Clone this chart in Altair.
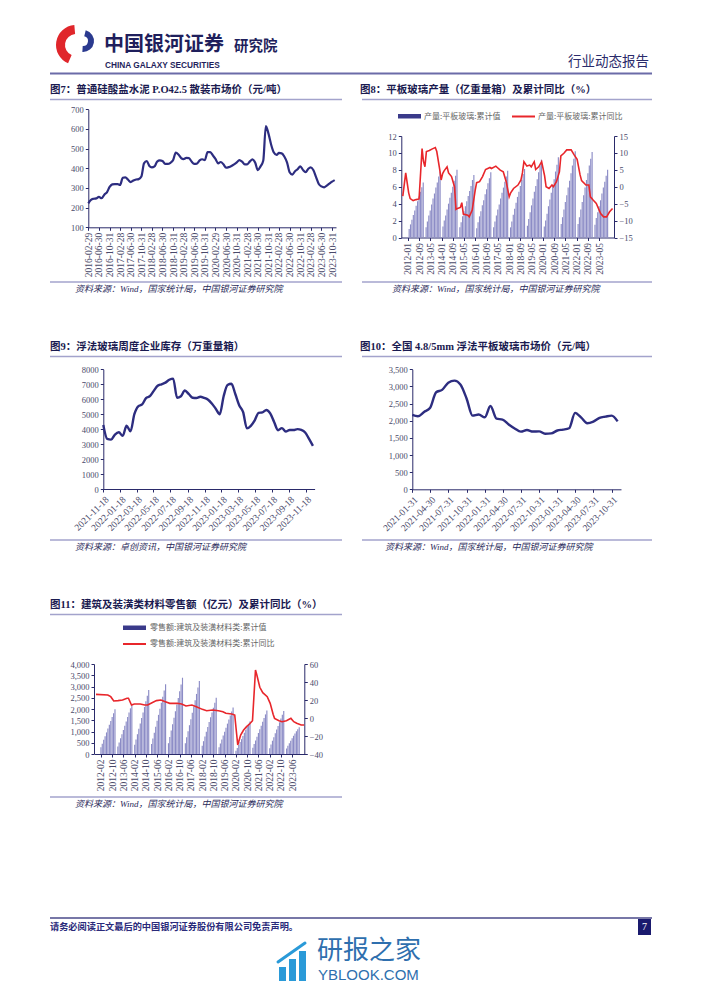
import altair as alt
import pandas as pd

W, H = 686, 975
OX, OY = 8, 8
SERIF = "Liberation Serif, Noto Sans CJK SC, serif"
SANS = "Noto Sans CJK SC, Liberation Sans, sans-serif"
NAVY = "#2d2d80"
RED = "#e8262b"
AXC = "#2a2a6a"
LBL = "#4a4a6a"
RULE = "#a3a3cc"
BAR = "#8c8cc6"
TITLE = "#1a1a50"

# ---------------- data ----------------
F7_VALS = [222, 240, 245, 247, 255, 248, 266, 278, 305, 318,
           320, 320, 315, 352, 354, 342, 330, 338, 343, 345,
           358, 425, 437, 412, 405, 410, 434, 440, 437, 422,
           422, 428, 442, 480, 470, 452, 447, 453, 452, 434,
           423, 424, 440, 446, 442, 482, 482, 465, 448, 425,
           432, 420, 403, 406, 412, 420, 430, 442, 434, 420,
           420, 435, 445, 428, 390, 410, 438, 615, 575, 520,
           480, 468, 478, 476, 460, 430, 380, 368, 385, 395,
           410, 392, 380, 398, 405, 390, 355, 320, 308, 303,
           312, 322, 332, 340]
F7_TICKS = ["2016-02-29", "2016-06-30", "2016-10-31", "2017-02-28", "2017-06-30", "2017-10-31",
            "2018-02-28", "2018-06-30", "2018-10-31", "2019-02-28", "2019-06-30", "2019-10-31",
            "2020-02-29", "2020-06-30", "2020-10-31", "2021-02-28", "2021-06-30", "2021-10-31",
            "2022-02-28", "2022-06-30", "2022-10-31", "2023-02-28", "2023-06-30", "2023-10-31"]

F8_YEARS = list(range(2012, 2024))
F8_BARS = [
    [1.0, 1.55, 2.1, 2.65, 3.2, 3.75, 4.3, 4.85, 5.4, 5.95, 6.5],
    [1.2, 1.9, 2.6, 3.2, 3.9, 4.6, 5.2, 5.9, 6.5, 7.2, 7.8],
    [1.3, 2.0, 2.6, 3.3, 4.0, 4.7, 5.3, 6.0, 6.7, 7.3, 8.0],
    [1.2, 1.8, 2.5, 3.1, 3.7, 4.3, 4.9, 5.5, 6.1, 6.8, 7.4],
    [1.1, 1.8, 2.5, 3.1, 3.8, 4.4, 5.1, 5.7, 6.4, 7.0, 7.7],
    [1.2, 1.9, 2.6, 3.3, 3.9, 4.6, 5.3, 5.9, 6.6, 7.2, 7.9],
    [1.2, 1.9, 2.7, 3.4, 4.1, 4.8, 5.4, 6.1, 6.8, 7.5, 8.1],
    [1.4, 2.2, 3.0, 3.8, 4.6, 5.4, 6.1, 6.9, 7.7, 8.5, 9.2],
    [1.3, 2.0, 2.8, 3.7, 4.5, 5.3, 6.1, 6.9, 7.8, 8.6, 9.5],
    [1.6, 2.4, 3.3, 4.2, 5.0, 5.9, 6.7, 7.6, 8.5, 9.3, 10.2],
    [1.6, 2.4, 3.3, 4.2, 5.0, 5.9, 6.8, 7.6, 8.5, 9.3, 10.1],
    [1.5, 2.3, 3.0, 3.7, 4.4, 5.2, 5.9, 6.6, 7.3, 8.0],
]
F8_LINE_DATES = ["2012-01", "2012-03", "2012-05", "2012-06", "2012-08", "2012-10", "2012-12", "2013-02",
                 "2013-03", "2013-04", "2013-05", "2013-07", "2013-09", "2013-11", "2013-12", "2014-02",
                 "2014-03", "2014-04", "2014-05", "2014-07", "2014-08", "2014-10", "2014-12", "2015-01",
                 "2015-02", "2015-04", "2015-05", "2015-06", "2015-09", "2015-10", "2015-12", "2016-02",
                 "2016-03", "2016-05", "2016-07", "2016-09", "2016-12", "2017-01", "2017-04", "2017-05",
                 "2017-07", "2017-09", "2017-11", "2018-01", "2018-02", "2018-04", "2018-07", "2018-09",
                 "2018-10", "2018-11", "2019-01", "2019-03", "2019-04", "2019-06", "2019-07", "2019-09",
                 "2019-11", "2020-01", "2020-02", "2020-04", "2020-06", "2020-07", "2020-09", "2020-11",
                 "2020-12", "2021-02", "2021-04", "2021-07", "2021-09", "2021-11", "2022-01", "2022-02",
                 "2022-05", "2022-07", "2022-08", "2022-10", "2022-12", "2023-03", "2023-05", "2023-07",
                 "2023-09", "2023-11"]
F8_LINE_VALS = [-2.8, 4.1, -1.8, -3.5, -4.1, -3.8, -3.6, 11.3, 7.6, 5.9, 10.4, 10.7, 11.2, 11.6, 10.4, 5.0,
                2.0, 3.9, 4.7, 5.9, 4.1, 3.0, 0.0, -6.7, -6.4, -6.1, -4.7, -8.1, -8.4, -8.9, -6.9, -1.0,
                1.2, 1.5, 3.0, 5.1, 5.7, 5.4, 6.1, 5.7, 4.9, 4.4, 1.5, -3.0, -1.8, -0.5, 0.5, 2.0,
                4.1, 7.4, 6.1, 6.4, 5.9, 7.4, 5.1, 5.9, 7.4, 3.2, 0.0, -0.5, 0.5, 0.0, 1.5, 4.4,
                9.1, 9.9, 10.9, 10.9, 9.4, 8.1, 3.5, 1.8, 0.5, 0.5, -3.0, -4.0, -4.9, -7.9, -8.9, -8.9,
                -7.4, -6.4]
F8_TICKS = ["2012-01", "2012-09", "2013-05", "2014-01", "2014-09", "2015-05", "2016-01", "2016-09",
            "2017-05", "2018-01", "2018-09", "2019-05", "2020-01", "2020-09", "2021-05", "2022-01",
            "2022-09", "2023-05"]

F9_VALS = [4280, 3350, 3300, 3640, 3790, 3550, 4230, 3850, 5000, 5530,
           5650, 6070, 6200, 6560, 6900, 7000, 7110, 7300, 7380, 6100,
           6200, 6580, 6350, 6100, 6080, 6170, 6090, 5970, 5700, 5350,
           5000, 6200, 6950, 7030, 6350, 5600, 5150, 4050, 4220, 4590,
           5090, 5120, 5280, 5050, 4480, 3930, 4070, 3840, 3940, 3940,
           4000, 3950, 3780, 3350, 2880]
F9_TICKS = ["2021-11-18", "2022-01-18", "2022-03-18", "2022-05-18", "2022-07-18", "2022-09-18",
            "2022-11-18", "2023-01-18", "2023-03-18", "2023-05-18", "2023-07-18", "2023-09-18",
            "2023-11-18"]

F10_VALS = [2170, 2130, 2255, 2370, 2830, 2900, 3110, 3170, 3060, 2650,
            2150, 2180, 2100, 2430, 2060, 2035, 1890, 1775, 1682, 1730,
            1685, 1690, 1620, 1630, 1715, 1740, 1780, 2230, 2090, 1925,
            1975, 2085, 2120, 2150, 1980]
F10_TICKS = ["2021-01-31", "2021-04-30", "2021-07-31", "2021-10-31", "2022-01-31", "2022-04-30",
             "2022-07-31", "2022-10-31", "2023-01-31", "2023-04-30", "2023-07-31", "2023-10-31"]

F11_YEARS = list(range(2012, 2024))
F11_BARS = [
    [300, 460, 630, 790, 960, 1130, 1300, 1470, 1640, 1810, 1985],
    [330, 510, 700, 880, 1070, 1260, 1450, 1650, 1840, 2030, 2220],
    [410, 640, 880, 1120, 1360, 1600, 1850, 2090, 2340, 2590, 2840],
    [440, 690, 950, 1210, 1480, 1740, 2010, 2280, 2550, 2820, 3100],
    [480, 760, 1040, 1320, 1610, 1900, 2200, 2490, 2790, 3090, 3390],
    [480, 740, 1010, 1280, 1550, 1830, 2110, 2390, 2670, 2960, 3240],
    [370, 570, 780, 990, 1200, 1420, 1630, 1850, 2060, 2280, 2500],
    [300, 470, 640, 820, 990, 1170, 1350, 1530, 1710, 1890, 2070],
    [150, 270, 400, 530, 660, 800, 940, 1080, 1220, 1340, 1450],
    [280, 440, 600, 770, 930, 1100, 1260, 1430, 1600, 1760, 1930],
    [260, 420, 590, 750, 920, 1090, 1250, 1410, 1580, 1740, 1910],
    [250, 370, 480, 590, 700, 810, 910, 1010, 1100, 1190],
]
F11_LINE_DATES = ["2012-02", "2012-10", "2012-12", "2013-02", "2013-05", "2013-08", "2013-11", "2013-12",
                  "2014-02", "2014-04", "2014-08", "2014-11", "2015-01", "2015-04", "2015-07", "2015-10",
                  "2016-01", "2016-04", "2016-09", "2016-12", "2017-03", "2017-07", "2017-10", "2018-02",
                  "2018-05", "2018-09", "2019-01", "2019-04", "2019-06", "2019-10", "2019-12", "2020-02",
                  "2020-04", "2020-06", "2020-08", "2020-10", "2020-12", "2021-02", "2021-03", "2021-05",
                  "2021-07", "2021-10", "2021-12", "2022-02", "2022-03", "2022-06", "2022-08", "2022-11",
                  "2023-02", "2023-04", "2023-06", "2023-09", "2023-11"]
F11_LINE_VALS = [26.3, 25.6, 23.7, 18.9, 19.3, 20.0, 21.9, 21.9, 14.4, 15.6, 15.6, 14.4, 14.4, 17.0,
                 19.3, 20.0, 18.1, 16.3, 16.3, 15.6, 13.3, 14.4, 12.6, 9.6, 8.1, 8.9, 8.1, 7.0, 5.2,
                 4.4, 3.3, -30.0, -18.9, -13.3, -9.6, -6.7, -3.0, 53.3, 47.8, 34.1, 28.1, 23.7, 16.3,
                 4.0, -0.4, -3.0, -4.1, -3.0, -0.4, -4.1, -5.9, -7.8, -7.8]
F11_TICKS = ["2012-02", "2012-10", "2013-06", "2014-02", "2014-10", "2015-06", "2016-02", "2016-10",
             "2017-06", "2018-02", "2018-10", "2019-06", "2020-02", "2020-10", "2021-06", "2022-02",
             "2022-10", "2023-06"]

# ---------------- helpers ----------------
def gx(x):
    return x - OX


def gy(y):
    return y - OY


ONE = alt.Data(values=[{"a": 1}])


def D(s):
    parts = [int(p) for p in s.split("-")]
    if len(parts) == 2:
        parts.append(1)
    return alt.DateTime(year=parts[0], month=parts[1], date=parts[2])


def text(s, x, y, size=10.5, weight="normal", color=TITLE, font=SERIF, align="left", style="normal"):
    return alt.Chart(ONE).mark_text(
        text=s, fontSize=size, fontWeight=weight, color=color, font=font,
        align=align, baseline="middle", fontStyle=style
    ).encode(x=alt.value(gx(x)), y=alt.value(gy(y)))


def hline(x1, x2, y, color=RULE, w=1.5):
    return alt.Chart(ONE).mark_rule(color=color, strokeWidth=w).encode(
        x=alt.value(gx(x1)), x2=alt.value(gx(x2)), y=alt.value(gy(y)))


def seg(x1, y1, x2, y2, color, w):
    return alt.Chart(ONE).mark_rule(color=color, strokeWidth=w, strokeCap="round").encode(
        x=alt.value(gx(x1)), x2=alt.value(gx(x2)), y=alt.value(gy(y1)), y2=alt.value(gy(y2)))


def box(x1, y1, x2, y2, color):
    return alt.Chart(ONE).mark_rect(color=color).encode(
        x=alt.value(gx(x1)), x2=alt.value(gx(x2)), y=alt.value(gy(y1)), y2=alt.value(gy(y2)))


def arc(cx, cy, r1, r2, t1, t2, color):
    return alt.Chart(ONE).mark_arc(radius=r1, radius2=r2, theta=t1, theta2=t2, color=color).encode(
        x=alt.value(gx(cx)), y=alt.value(gy(cy)))


def xaxis(axis_y, ticks, fmt, angle):
    return alt.Axis(orient="bottom", offset=gy(axis_y) - H, values=[D(t) for t in ticks], format=fmt,
                    labelAngle=angle, title=None, labelOverlap=False, labelFlush=False,
                    labelFontSize=9.5, grid=False)


def yaxis(orient, axis_x, values, fmt):
    off = -gx(axis_x) if orient == "left" else gx(axis_x) - W
    return alt.Axis(orient=orient, offset=off, values=values, format=fmt, title=None,
                    labelOverlap=False, grid=False)


def xscale(d0, d1, x0, x1):
    return alt.Scale(domain=[D(d0), D(d1)], range=[gx(x0), gx(x1)])


def yscale(v0, v1, y0, y1):
    return alt.Scale(domain=[v0, v1], range=[gy(y0), gy(y1)], nice=False, zero=False)


layers = []

# ---------------- page decoration ----------------
layers += [
    arc(76, 45, 20, 11, 3.55, 6.2, "#e0262b"),
    arc(83, 41, 11, 5, 0.25, 3.2, "#2b3a8f"),
    text("中国银河证券", 104, 45, size=20, weight="bold", color="#1f1f5c", font=SANS),
    text("研究院", 234, 47, size=14.5, weight="bold", color="#1f1f5c", font=SANS),
    text("CHINA GALAXY SECURITIES", 105, 66, size=8.3, weight="bold", color="#1f1f5c",
         font="Liberation Sans, sans-serif"),
    text("行业动态报告", 649, 62, size=13.5, color="#2b2b6b", font=SANS, align="right"),
    hline(50, 652, 73.5, color="#6b6ba8", w=2),
]

# titles, underlines, source lines
for (t, x, y) in [
    ("图7：普通硅酸盐水泥 P.O42.5 散装市场价（元/吨）", 50, 90),
    ("图8：平板玻璃产量（亿重量箱）及累计同比（%）", 360, 90),
    ("图9：浮法玻璃周度企业库存（万重量箱）", 50, 347),
    ("图10：全国 4.8/5mm 浮法平板玻璃市场价（元/吨）", 360, 347),
    ("图11：建筑及装潢类材料零售额（亿元）及累计同比（%）", 50, 605),
]:
    layers.append(text(t, x, y, size=10.5, weight="bold"))

for (x1, x2, y) in [(50, 342, 99.5), (362, 652, 99.5), (50, 342, 356.5), (362, 652, 356.5),
                    (50, 342, 614.5), (50, 342, 282), (362, 652, 282), (50, 342, 540),
                    (362, 652, 540), (50, 342, 797)]:
    layers.append(hline(x1, x2, y))

SRC = "资料来源：Wind，国家统计局，中国银河证券研究院"
for (s, x, y) in [(SRC, 75, 289), (SRC, 392, 289), ("资料来源：卓创资讯，中国银河证券研究院", 75, 547),
                  (SRC, 385, 547), (SRC, 75, 804)]:
    layers.append(text(s, x, y, size=9, color="#2a2a5a", style="italic"))

# footer
layers += [
    hline(50, 652, 918, color="#4a4a8a", w=1.5),
    text("请务必阅读正文最后的中国银河证券股份有限公司免责声明。", 50, 926.5, size=9.2, weight="bold",
         color="#2a2a7a"),
    box(638, 919, 651, 935, "#1a1a6e"),
    text("7", 644.5, 927, size=10, color="white", font=SERIF, align="center"),
    # watermark
    box(279, 967, 286, 981, "#2a9ad8"),
    box(289, 959, 296, 981, "#2a9ad8"),
    box(299, 951, 306, 981, "#2a9ad8"),
    seg(278, 962, 305, 943, "#2a9ad8", 3),
    text("研报之家", 317, 951, size=26, color="#2e6fae", font=SANS),
    text("YBLOOK.COM", 318, 975, size=15, color="#2e6fae", font="Liberation Sans, sans-serif"),
]

# ---------------- Fig 7 ----------------
d7 = pd.date_range("2016-03-01", periods=len(F7_VALS), freq="MS") - pd.Timedelta(days=1)
df7 = pd.DataFrame({"date": d7, "v": F7_VALS})
layers.append(alt.Chart(df7).mark_line(color=NAVY, strokeWidth=2.2, interpolate="monotone").encode(
    x=alt.X("date:T", scale=xscale("2016-02-29", "2023-12-15", 88.3, 336),
            axis=xaxis(227.3, F7_TICKS, "%Y-%m-%d", 270)),
    y=alt.Y("v:Q", scale=yscale(100, 700, 227.3, 109.3),
            axis=yaxis("left", 88.3, list(range(100, 701, 100)), "d")),
))

# ---------------- Fig 8 ----------------
rows = []
for yr, vals in zip(F8_YEARS, F8_BARS):
    for i, v in enumerate(vals):
        rows.append({"date": f"{yr}-{i + 2:02d}-01", "v": v})
df8b = pd.DataFrame(rows)
df8b["date"] = pd.to_datetime(df8b["date"])
df8l = pd.DataFrame({"date": pd.to_datetime([d + "-01" for d in F8_LINE_DATES]), "v": F8_LINE_VALS})
x8 = xscale("2011-12-01", "2023-12-01", 401.3, 614)
layers.append(alt.Chart(df8b).mark_bar(width=1.15, color=BAR).encode(
    x=alt.X("date:T", scale=x8, axis=xaxis(237.5, F8_TICKS, "%Y-%m", 270)),
    y=alt.Y("v:Q", scale=alt.Scale(domain=[0, 12], range=[gy(237.5), gy(136)], nice=False),
            axis=yaxis("left", 401.3, list(range(0, 13, 2)), "d")),
))
layers.append(alt.Chart(df8l).mark_line(color=RED, strokeWidth=1.6).encode(
    x=alt.X("date:T", scale=x8, axis=None),
    y=alt.Y("v:Q", scale=yscale(-15, 15, 237.5, 136),
            axis=yaxis("right", 614, list(range(-15, 16, 5)), "d")),
))
layers += [
    box(398, 114, 421, 118.5, "#3a3a8a"),
    text("产量:平板玻璃:累计值", 424, 116.5, size=8, color="#666666", font=SANS),
    hline(512, 535, 116.5, color=RED, w=2),
    text("产量:平板玻璃:累计同比", 538, 116.5, size=8, color="#666666", font=SANS),
]

# ---------------- Fig 9 ----------------
d9 = pd.date_range("2021-11-18", periods=len(F9_VALS), freq="14D")
df9 = pd.DataFrame({"date": d9, "v": F9_VALS})
layers.append(alt.Chart(df9).mark_line(color=NAVY, strokeWidth=2.4, interpolate="monotone").encode(
    x=alt.X("date:T", scale=xscale("2021-11-18", "2023-12-20", 103.3, 314.6),
            axis=xaxis(489, F9_TICKS, "%Y-%m-%d", 315)),
    y=alt.Y("v:Q", scale=yscale(0, 8000, 489, 369.3),
            axis=yaxis("left", 103.3, list(range(0, 8001, 1000)), "d")),
))

# ---------------- Fig 10 ----------------
d10 = pd.date_range("2021-02-01", periods=len(F10_VALS), freq="MS") - pd.Timedelta(days=1)
df10 = pd.DataFrame({"date": d10, "v": F10_VALS})
layers.append(alt.Chart(df10).mark_line(color=NAVY, strokeWidth=2.4, interpolate="monotone").encode(
    x=alt.X("date:T", scale=xscale("2021-01-31", "2023-12-17", 412.3, 621),
            axis=xaxis(489.3, F10_TICKS, "%Y-%m-%d", 315)),
    y=alt.Y("v:Q", scale=yscale(0, 3500, 489.3, 369.3),
            axis=yaxis("left", 412.3, list(range(0, 3501, 500)), ",.0f")),
))

# ---------------- Fig 11 ----------------
rows = []
for yr, vals in zip(F11_YEARS, F11_BARS):
    for i, v in enumerate(vals):
        rows.append({"date": f"{yr}-{i + 2:02d}-01", "v": v})
df11b = pd.DataFrame(rows)
df11b["date"] = pd.to_datetime(df11b["date"])
df11l = pd.DataFrame({"date": pd.to_datetime([d + "-01" for d in F11_LINE_DATES]), "v": F11_LINE_VALS})
x11 = xscale("2012-01-01", "2023-12-01", 94.5, 305.6)
layers.append(alt.Chart(df11b).mark_bar(width=1.15, color=BAR).encode(
    x=alt.X("date:T", scale=x11, axis=xaxis(754, F11_TICKS, "%Y-%m", 270)),
    y=alt.Y("v:Q", scale=alt.Scale(domain=[0, 4000], range=[gy(754), gy(664)], nice=False),
            axis=yaxis("left", 94, list(range(0, 4001, 500)), ",.0f")),
))
layers.append(alt.Chart(df11l).mark_line(color=RED, strokeWidth=1.6).encode(
    x=alt.X("date:T", scale=x11, axis=None),
    y=alt.Y("v:Q", scale=yscale(-40, 60, 754, 664),
            axis=yaxis("right", 304.3, list(range(-40, 61, 20)), "d")),
))
layers += [
    box(123, 625.5, 146, 630, "#3a3a8a"),
    text("零售额:建筑及装潢材料类:累计值", 150, 627.5, size=8, color="#666666", font=SANS),
    hline(123, 146, 644, color=RED, w=2),
    text("零售额:建筑及装潢材料类:累计同比", 150, 644, size=8, color="#666666", font=SANS),
]

chart = alt.layer(*layers).resolve_scale(
    x="independent", y="independent"
).resolve_axis(
    x="independent", y="independent"
).properties(
    width=W, height=H, padding=0, autosize=alt.AutoSizeParams(type="none")
).configure_view(stroke=None).configure_axis(
    grid=False, labelFont=SERIF, labelFontSize=8.5, labelColor=LBL, domainColor=AXC,
    tickColor=AXC, tickSize=3, domainWidth=1, labelPadding=2
)

chart.save("out.html", embed_options={"renderer": "svg", "actions": False})
